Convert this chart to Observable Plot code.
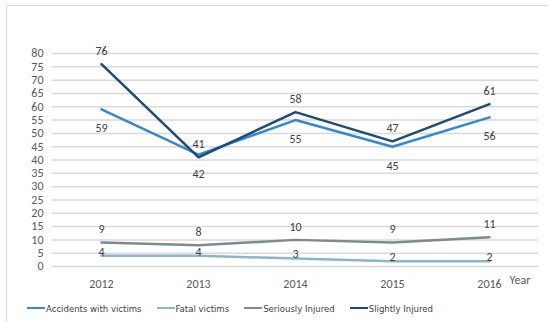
<!DOCTYPE html>
<html>
<head>
<meta charset="utf-8">
<script src="https://cdn.jsdelivr.net/npm/d3@7"></script>
<script src="https://cdn.jsdelivr.net/npm/@observablehq/plot@0.6"></script>
<style>
  html, body { margin: 0; padding: 0; background: #fff; }
  #wrap { position: relative; width: 548px; height: 322px; overflow: hidden;
          font-family: Carlito, "Liberation Sans Narrow", "Open Sans", sans-serif; }
  #frame { position: absolute; left: 6px; top: 5px; width: 560px; height: 340px;
           border-left: 1px solid #d9d9d9; border-top: 1px solid #d9d9d9; pointer-events: none; }
  #legend { position: absolute; left: 27px; top: 297px; display: flex; gap: 15px;
            font-family: "Liberation Sans Narrow", "DejaVu Sans Condensed", sans-serif;
            font-size: 9.5px; color: #404040; align-items: center; height: 22px; }
  #legend span.item { display: flex; align-items: center; }
  #legend span.sw { display: inline-block; width: 18px; height: 2.5px; margin-right: 1px; }
  svg { display: block; }
</style>
</head>
<body>
<div id="wrap">
  <div id="frame"></div>
  <div id="chart"></div>
  <div id="legend"></div>
</div>
<script>
const years = ["2012", "2013", "2014", "2015", "2016"];
const seriesNames = ["Accidents with victims", "Fatal victims", "Seriously Injured", "Slightly Injured"];
const accidents = [59, 42, 55, 45, 56];
const fatal = [4, 4, 3, 2, 2];
const serious = [9, 8, 10, 9, 11];
const slightly = [76, 41, 58, 47, 61];
const yTicks = d3.range(0, 81, 5);
const colors = ["#3389d0", "#8ab6c8", "#7d8a8e", "#1d4b75"];

const valuesBySeries = [accidents, fatal, serious, slightly];
const data = seriesNames.flatMap((s, i) => years.map((y, j) => ({series: s, year: y, value: valuesBySeries[i][j]})));

// label offsets per series (px): above for most, below for accidents
const labelDy = {"Accidents with victims": 19, "Fatal victims": -4, "Seriously Injured": -13, "Slightly Injured": -13};

const font = 'Carlito, "Liberation Sans Narrow", "Open Sans", sans-serif';

const chart = Plot.plot({
  width: 548,
  height: 295,
  marginTop: 53,
  marginBottom: 29,
  marginLeft: 52,
  marginRight: 10,
  style: {fontFamily: font, fontSize: "12px", color: "#595959", background: "transparent"},
  x: {type: "point", domain: years, padding: 0.5, label: null},
  y: {domain: [0, 80], ticks: yTicks, label: null},
  color: {domain: seriesNames, range: colors},
  marks: [
    Plot.gridY(yTicks, {stroke: "#d9d9d9", strokeOpacity: 1, strokeWidth: 1.5}),
    Plot.axisY({ticks: yTicks, tickSize: 0, tickPadding: 9, label: null, fontSize: 12}),
    Plot.axisX({tickSize: 0, tickPadding: 13, label: null, fontSize: 12}),
    Plot.text(["Year"], {frameAnchor: "bottom-right", dx: -8, dy: 17, fill: "#595959", fontSize: 12}),
    Plot.line(data, {x: "year", y: "value", z: "series", stroke: "series", strokeWidth: 2.5}),
    ...seriesNames.map(s => Plot.text(data.filter(d => d.series === s), {
      x: "year", y: "value", text: d => String(d.value), dy: labelDy[s], fill: "#404040", fontSize: 12
    }))
  ]
});
document.getElementById("chart").appendChild(chart);

const legend = document.getElementById("legend");
seriesNames.forEach((s, i) => {
  const item = document.createElement("span");
  item.className = "item";
  item.innerHTML = `<span class="sw" style="background:${colors[i]}"></span>${s}`;
  legend.appendChild(item);
});
</script>
</body>
</html>
